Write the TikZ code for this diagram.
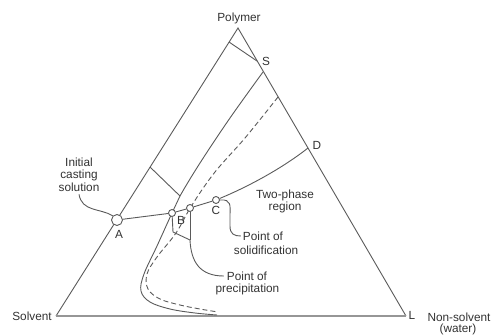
\documentclass[tikz,border=0pt]{standalone}
\usepackage{fontspec}
\setmainfont{Liberation Sans}
\usetikzlibrary{calc}
\definecolor{linec}{RGB}{90,90,90}
\definecolor{basec}{RGB}{150,150,150}
\definecolor{textc}{RGB}{50,50,50}
\begin{document}
\begin{tikzpicture}[x=1pt,y=-1pt,
  ln/.style={draw=linec,line width=0.9pt},
  lbl/.style={text=textc,font=\fontsize{11.8}{13}\selectfont,inner sep=0pt,anchor=base},
  dot/.style={circle,draw=linec,line width=0.9pt,fill=white,inner sep=0pt,minimum size=7pt}]
\useasboundingbox (0,0) rectangle (491,335);
% triangle vertices
\coordinate (P) at (238,28);
\coordinate (So) at (56,316);
\coordinate (L) at (406,316);
\coordinate (D) at (308,148);
\coordinate (S) at (257,61);
\coordinate (T1) at (229,42);
\coordinate (T2) at (150,167);
\coordinate (T3) at (180,196);
% triangle
\draw[ln] (So) -- (P) -- (L);
\draw[draw=basec,line width=1.4pt] (So) -- (L);
% tie lines
\draw[ln] (T1) -- (S);
\draw[ln] (T2) -- (T3);
% solid curve
\draw[ln] plot[smooth,tension=0.6] coordinates {(263,72) (230,118) (200,163) (180,196) (172,213) (157,246) (144,274) (141,291) (150,302) (170,309) (195,313) (217,315)};
% dashed curve
\draw[ln,dash pattern=on 5pt off 3pt] plot[smooth,tension=0.6] coordinates {(278,97) (245,138) (215,172) (192,205) (176,233) (157,257) (147,274) (148,289) (160,299) (180,305) (200,309) (218,312)};
% composition path
\node[dot,minimum size=11pt] (A) at (117,220) {};
\node[dot] (B1) at (172,213) {};
\node[dot] (B2) at (190,208) {};
\node[dot] (C) at (216,200) {};
\draw[ln] (A) -- (B1);
\draw[ln] (B1) -- (B2);
\draw[ln] (B2) -- (C);
\draw[ln] (C) .. controls (245,188) and (280,170) .. (D);
% labels
\node[lbl] (poly) at (239,21) {Polymer};
\node[lbl] (slv) at (32,320) {Solvent};
\node[lbl] (ns1) at (459,321) {Non-solvent};
\node[lbl] (ns2) at (458,332) {(water)};
\node[lbl] (Llbl) at (412,319) {L};
\node[lbl] (Slbl) at (266,65) {S};
\node[lbl] (Dlbl) at (317,149) {D};
\node[lbl] (Albl) at (119,238) {A};
\node[lbl] (Blbl) at (181,224) {B};
\node[lbl] (Clbl) at (216,214) {C};
\node[lbl] (ini1) at (79,166) {Initial};
\node[lbl] (ini2) at (79,178) {casting};
\node[lbl] (ini3) at (79,191) {solution};
\node[lbl] (tp1) at (285,198) {Two-phase};
\node[lbl] (tp2) at (285,210) {region};
\node[lbl] (sol1) at (263,240) {Point of};
\node[lbl] (sol2) at (266,254) {solidification};
\node[lbl] (pre1) at (247,280) {Point of};
\node[lbl] (pre2) at (247.5,292) {precipitation};
% leaders
\draw[ln] ([yshift=-3pt]ini3.south) .. controls (82,212) and (100,208) .. (A.north west);
\coordinate (K) at (173,232);
\coordinate (J) at (190,240);
\draw[ln] (B1) -- (K) -- (J);
\draw[ln] (B2) -- (J);
\draw[ln] (J) .. controls (191,262) and (200,276) .. ([xshift=-3pt,yshift=4pt]pre1.base west);
\draw[ln] (C.east) .. controls (232,199) and (230,206) .. (230,216) -- (230,226) .. controls (230,234) and (234,236) .. ([xshift=-2pt,yshift=4pt]sol1.base west);
\end{tikzpicture}
\end{document}
